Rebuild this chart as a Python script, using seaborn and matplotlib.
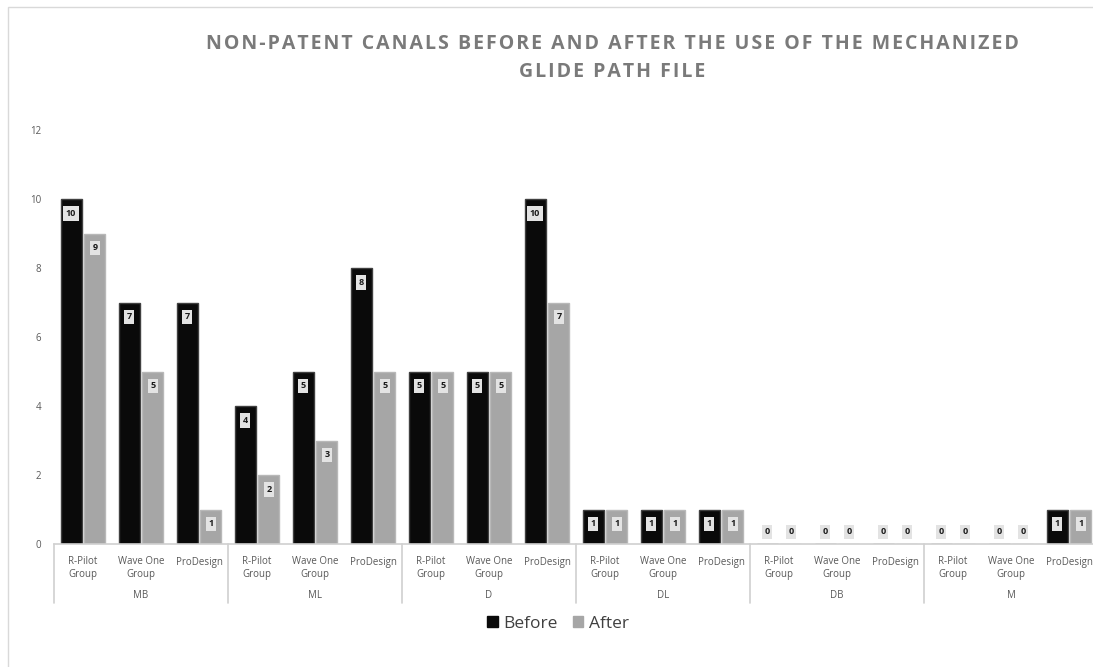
import pandas as pd
import matplotlib.pyplot as plt
import matplotlib.patches as mpatches
import seaborn as sns

# data
regions = ["MB", "ML", "D", "DL", "DB", "M"]
groups = ["R-Pilot\nGroup", "Wave One\nGroup", "ProDesign"]
series = ["Before", "After"]
before = [10, 7, 7, 4, 5, 8, 5, 5, 10, 1, 1, 1, 0, 0, 0, 0, 0, 1]
after = [9, 5, 1, 2, 3, 5, 5, 5, 7, 1, 1, 1, 0, 0, 0, 0, 0, 1]
title_lines = ["NON-PATENT CANALS BEFORE AND AFTER THE USE OF THE MECHANIZED",
               "GLIDE PATH FILE"]

# long table for seaborn
slots = [f"{r}|{g}" for r in regions for g in groups]
rows = []
for s, b, a in zip(slots, before, after):
    rows.append({"slot": s, "series": "Before", "value": b})
    rows.append({"slot": s, "series": "After", "value": a})
df = pd.DataFrame(rows)

sns.set_theme(style="white")
plt.rcParams["font.family"] = ["Open Sans", "DejaVu Sans"]

W, H = 1093, 667
fig = plt.figure(figsize=(W / 100, H / 100), dpi=100)
ax = fig.add_axes([54 / W, 123 / H, 1044 / W, 414 / H])

colors = ["#0a0a0a", "#a6a6a6"]
edges = ["#404040", "#b8b8b8"]
sns.barplot(data=df, x="slot", y="value", hue="series", hue_order=series,
            order=slots, palette=colors, width=0.82, gap=0.12,
            ax=ax, legend=False, saturation=1)

for cont, ec in zip(ax.containers, edges):
    for bar in cont:
        bar.set_edgecolor(ec)
        bar.set_linewidth(1)
        v = bar.get_height()
        y = v - 0.42 if v > 0 else 0.35
        ax.text(bar.get_x() + bar.get_width() / 2, y, f"{v:.0f}",
                ha="center", va="center", fontsize=6.5, fontweight="bold",
                color="#1a1a1a",
                bbox=dict(boxstyle="square,pad=0.3", facecolor="#e3e3e3",
                          edgecolor="none"))

ax.set_ylim(0, 12)
ax.set_xlim(-0.5, len(slots) - 0.5)
ax.set_yticks(range(0, 13, 2))
ax.set_xticks(range(len(slots)))
ax.set_xticklabels(groups * len(regions))
ax.tick_params(axis="x", length=0, pad=9, labelsize=7, labelcolor="#595959")
ax.tick_params(axis="y", length=0, pad=9, labelsize=7, labelcolor="#595959")
ax.set_xlabel("")
ax.set_ylabel("")
for side in ["top", "right", "left"]:
    ax.spines[side].set_visible(False)
ax.spines["bottom"].set_color("#d0d0d0")
ax.spines["bottom"].set_linewidth(1.2)

# region labels and separators below the axis
tr = ax.get_xaxis_transform()
for i, r in enumerate(regions):
    ax.text(i * 3 + 1, -0.125, r, transform=tr, ha="center", va="center",
            fontsize=7, color="#595959")
for k in range(len(regions) + 1):
    ax.plot([k * 3 - 0.5, k * 3 - 0.5], [0, -0.143], transform=tr,
            color="#d0d0d0", lw=1.2, clip_on=False)

handles = [mpatches.Patch(color=c, label=s) for c, s in zip(colors, series)]
leg = fig.legend(handles=handles, loc="center", bbox_to_anchor=(558 / W, 1 - 624 / H),
                 ncol=2, frameon=False, fontsize=12.5, handlelength=0.6,
                 handleheight=0.6, handletextpad=0.3, columnspacing=0.9)
for t in leg.get_texts():
    t.set_color("#404040")

# title with a little letter spacing (hair spaces between characters)
for line, ypx in zip(title_lines, [44, 72]):
    spaced = "\u200a".join(line)
    fig.text(612 / W, 1 - ypx / H, spaced, ha="center", va="center",
             fontsize=14, fontweight="bold", color="#7a7a7a")

fig.add_artist(mpatches.Rectangle((8 / W, -0.1), 1.2, (H - 7) / H + 0.1,
                                  transform=fig.transFigure, fill=False,
                                  edgecolor="#d9d9d9", lw=1))

fig.savefig("out.png", dpi=100)
